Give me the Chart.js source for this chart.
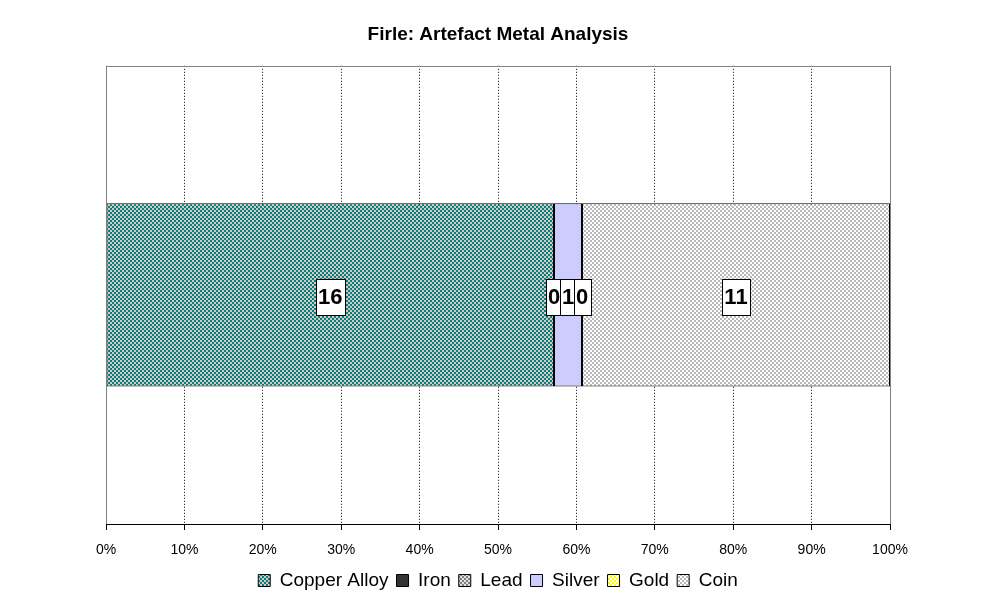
<!DOCTYPE html>
<html>
<head>
<meta charset="utf-8">
<script src="https://cdn.jsdelivr.net/npm/chart.js@4/dist/chart.umd.min.js"></script>
<style>
  html, body { margin: 0; padding: 0; background: #fff; }
  #wrap { width: 987px; height: 605px; }
</style>
</head>
<body>
<div id="wrap"><canvas id="c" width="987" height="605"></canvas></div>
<script>
// data
const categories = ['Firle'];
const seriesNames = ['Copper Alloy', 'Iron', 'Lead', 'Silver', 'Gold', 'Coin'];
const copperAlloy = [16];
const iron = [0];
const lead = [0];
const silver = [1];
const gold = [0];
const coin = [11];
const tickValues = [0, 10, 20, 30, 40, 50, 60, 70, 80, 90, 100];

const FONT = '"Liberation Sans", Arial, sans-serif';

// staggered 2x2 block fill like the old Excel patterns
function makePattern(bg, fg) {
  const t = document.createElement('canvas');
  t.width = 4; t.height = 4;
  const g = t.getContext('2d');
  g.fillStyle = bg;
  g.fillRect(0, 0, 4, 4);
  g.fillStyle = fg;
  g.fillRect(0, 0, 2, 2);
  g.fillRect(2, 2, 2, 2);
  return document.getElementById('c').getContext('2d').createPattern(t, 'repeat');
}

const fills = [
  makePattern('#008080', '#d8c8c0'),
  '#333333',
  makePattern('#808080', '#e0e0e0'),
  '#ccccff',
  makePattern('#ffff00', '#ffffff'),
  makePattern('#b8b8b8', '#ffffff')
];

const rawSeries = [copperAlloy, iron, lead, silver, gold, coin];
const totals = categories.map((_, i) => rawSeries.reduce((s, a) => s + a[i], 0));

const datasets = rawSeries.map((vals, k) => ({
  label: seriesNames[k],
  data: vals.map((v, i) => v / totals[i] * 100),
  counts: vals,
  backgroundColor: fills[k],
  borderColor: '#000',
  borderWidth: 1,
  borderSkipped: false,
  barPercentage: 0.4,
  categoryPercentage: 1
}));

// grey frame round the plot area
const frame = {
  id: 'frame',
  afterDatasetsDraw(chart) {
    const a = chart.chartArea, ctx = chart.ctx;
    ctx.save();
    ctx.strokeStyle = '#808080';
    ctx.lineWidth = 1;
    ctx.strokeRect(Math.round(a.left) + 0.5, Math.round(a.top) + 0.5,
      Math.round(a.right - a.left), Math.round(a.bottom - a.top));
    ctx.strokeStyle = '#000';
    ctx.beginPath();
    ctx.moveTo(a.left, Math.round(a.bottom) + 0.5);
    ctx.lineTo(a.right + 1, Math.round(a.bottom) + 0.5);
    ctx.stroke();
    ctx.restore();
  }
};

// boxed value labels in the middle of each segment
const boxLabels = {
  id: 'boxLabels',
  afterDraw(chart) {
    const ctx = chart.ctx;
    ctx.save();
    ctx.font = 'bold 22px ' + FONT;
    ctx.textAlign = 'center';
    ctx.textBaseline = 'middle';
    chart.data.datasets.forEach((ds, k) => {
      const meta = chart.getDatasetMeta(k);
      meta.data.forEach((bar, i) => {
        const cx = (bar.x + bar.base) / 2;
        const cy = bar.y + 2;
        const txt = String(ds.counts[i]);
        const w = Math.round(ctx.measureText(txt).width) + 5;
        const h = 36;
        const x0 = Math.round(cx - w / 2) + 0.5, y0 = Math.round(cy - h / 2) + 0.5;
        ctx.fillStyle = '#fff';
        ctx.fillRect(x0, y0, w, h);
        ctx.strokeStyle = '#000';
        ctx.lineWidth = 1;
        ctx.strokeRect(x0, y0, w, h);
        ctx.fillStyle = '#000';
        ctx.fillText(txt, cx, cy + 1);
      });
    });
    ctx.restore();
  }
};

new Chart(document.getElementById('c'), {
  type: 'bar',
  data: { labels: categories, datasets },
  plugins: [frame, boxLabels],
  options: {
    indexAxis: 'y',
    responsive: false,
    animation: false,
    layout: { padding: { left: 106, right: 97, top: 0, bottom: 5 } },
    scales: {
      x: {
        stacked: true,
        min: 0,
        max: 100,
        afterBuildTicks(scale) { scale.ticks = tickValues.map(v => ({ value: v })); },
        afterFit(scale) { scale.height = 39; },
        ticks: {
          callback: v => v + '%',
          color: '#000',
          font: { family: FONT, size: 14 },
          padding: 12,
          maxRotation: 0
        },
        grid: {
          color: '#000',
          borderDash: [1, 2],
          tickColor: '#000',
          tickBorderDash: [],
          tickLength: 6
        },
        border: { display: true, color: '#000', dash: [1, 2] }
      },
      y: {
        stacked: true,
        display: false
      }
    },
    plugins: {
      title: {
        display: true,
        text: 'Firle: Artefact Metal Analysis',
        color: '#000',
        font: { family: FONT, size: 19, weight: 'bold' },
        padding: { top: 23, bottom: 20 }
      },
      legend: {
        position: 'bottom',
        labels: {
          color: '#000',
          font: { family: FONT, size: 19 },
          boxWidth: 12,
          boxHeight: 12,
          padding: 8
        }
      },
      tooltip: { enabled: false }
    }
  }
});
</script>
</body>
</html>
